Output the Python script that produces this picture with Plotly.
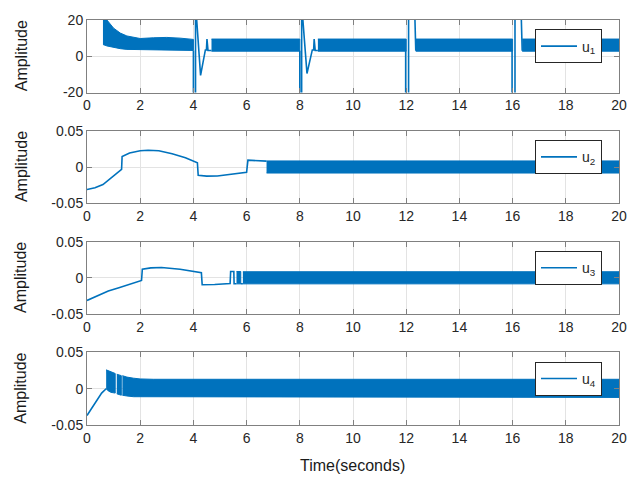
import plotly.graph_objects as go

# ---------------- data ----------------
X_TICKS = [0, 2, 4, 6, 8, 10, 12, 14, 16, 18, 20]
X_TICK_TEXT = ["0", "2", "4", "6", "8", "10", "12", "14", "16", "18", "20"]
Y1_TICKS = [-20, 0, 20]
Y1_TICK_TEXT = ["-20", "0", "20"]
YS_TICKS = [-0.05, 0, 0.05]
YS_TICK_TEXT = ["-0.05", "0", "0.05"]
SERIES_NAMES = ["u<sub>1</sub>", "u<sub>2</sub>", "u<sub>3</sub>", "u<sub>4</sub>"]

# u1: chattering bands (upper / lower envelopes) and transients
U1_BAND_A_T = [0.6, 0.75, 1.0, 1.25, 1.5, 1.75, 2.0, 2.5, 3.0, 3.5, 4.0]
U1_BAND_A_HI = [26, 20, 15.5, 12.8, 11.2, 10.3, 9.8, 10.2, 10.4, 10.0, 9.3]
U1_BAND_A_LO = [6.5, 5.7, 4.8, 4.2, 3.8, 3.6, 3.5, 3.4, 3.4, 3.3, 3.2]
U1_BAND_B_T = [4.68, 8.0]
U1_BAND_B_HI = [9.5, 9.5]
U1_BAND_B_LO = [2.8, 2.8]
U1_BAND_C_T = [8.68, 12.0]
U1_BAND_C_HI = [9.5, 9.5]
U1_BAND_C_LO = [2.8, 2.8]
U1_BAND_D_T = [12.36, 16.0]
U1_BAND_D_HI = [9.5, 9.5]
U1_BAND_D_LO = [2.8, 2.8]
U1_BAND_E_T = [16.36, 20.0]
U1_BAND_E_HI = [9.5, 9.5]
U1_BAND_E_LO = [2.8, 2.8]
U1_LINE_T = [4.0, 4.0, 4.08, 4.08, 4.1, 4.27, 4.45, 4.49, 4.51, 4.55, 4.68, None,
             8.0, 8.0, 8.07, 8.07, 8.09, 8.27, 8.47, 8.52, 8.54, 8.58, 8.68, None,
             11.98, 11.98, 12.09, 12.09, 12.32, 12.36, None,
             15.98, 15.98, 16.09, 16.09, 16.32, 16.36]
U1_LINE_V = [3.2, -25, -25, 25, 25, -10.5, 3.5, 3.5, 9.5, 3.2, 3.2, None,
             3.0, -25, -25, 25, 25, -9.5, 3.5, 3.5, 9.5, 3.2, 3.2, None,
             3.0, -25, -25, 25, 25, 3.0, None,
             3.0, -25, -25, 25, 25, 3.0]

# u2
U2_LINE_T = [0, 0.3, 0.6, 0.9, 1.1, 1.3, 1.32, 1.6, 2.0, 2.3, 2.7, 3.2, 3.7, 4.15,
             4.18, 4.5, 4.9, 5.4, 6.0, 6.05, 6.3, 6.75]
U2_LINE_V = [-0.031, -0.0285, -0.024, -0.0155, -0.0097, -0.003, 0.0145, 0.0195,
             0.0225, 0.0232, 0.0225, 0.0185, 0.013, 0.006,
             -0.0112, -0.0125, -0.0122, -0.0103, -0.0072, 0.0095, 0.0093, 0.0082]
U2_BAND_T = [6.75, 20.0]
U2_BAND_HI = [0.0085, 0.0085]
U2_BAND_LO = [-0.0082, -0.0082]

# u3
U3_LINE_T = [0, 0.5, 0.8, 1.2, 1.6, 2.05, 2.08, 2.4, 2.8, 3.5, 4.3, 4.33, 4.8, 5.38,
             5.4, 5.52, 5.53, 5.62]
U3_LINE_V = [-0.031, -0.0225, -0.018, -0.0135, -0.009, -0.0035, 0.012, 0.0138,
             0.0143, 0.012, 0.0073, -0.0095, -0.009, -0.0078,
             0.0088, 0.0088, -0.008, -0.008]
U3_BAND_A_T = [5.62, 5.78]
U3_BAND_A_HI = [0.0088, 0.0088]
U3_BAND_A_LO = [-0.0082, -0.0082]
U3_GAP_T = [5.78, 5.86]
U3_GAP_V = [-0.008, -0.008]
U3_BAND_B_T = [5.86, 20.0]
U3_BAND_B_HI = [0.0085, 0.0085]
U3_BAND_B_LO = [-0.0082, -0.0082]

# u4
U4_LINE_T = [0, 0.3, 0.55, 0.72]
U4_LINE_V = [-0.037, -0.02, -0.006, 0.0]
U4_BAND_A_T = [0.72, 0.8, 0.9, 1.06]
U4_BAND_A_HI = [0.026, 0.025, 0.023, 0.021]
U4_BAND_A_LO = [0.0, -0.003, -0.005, -0.006]
U4_BAND_B_T = [1.12, 1.2, 1.29]
U4_BAND_B_HI = [0.02, 0.019, 0.018]
U4_BAND_B_LO = [-0.007, -0.008, -0.009]
U4_BAND_C_T = [1.33, 1.5, 1.75, 2.0, 2.5, 20.0]
U4_BAND_C_HI = [0.018, 0.016, 0.0145, 0.0135, 0.013, 0.013]
U4_BAND_C_LO = [-0.009, -0.010, -0.011, -0.0115, -0.012, -0.012]

# ---------------- styling ----------------
BLUE = "#0072BD"
AX = "#808080"
GRID = "#e3e3e3"
TXT = "#262626"
FONT = "Liberation Sans, Arial, sans-serif"

fig = go.Figure()


def band(t, hi, lo, ax):
    fig.add_trace(go.Scatter(
        x=list(t) + list(t)[::-1], y=list(hi) + list(lo)[::-1],
        fill="toself", fillcolor=BLUE, mode="lines",
        line=dict(color=BLUE, width=1), showlegend=False, hoverinfo="skip",
        xaxis="x" + ax, yaxis="y" + ax))


def line(t, v, ax, name=None, legend=None):
    fig.add_trace(go.Scatter(
        x=t, y=v, mode="lines", line=dict(color=BLUE, width=1.6),
        name=name or "", showlegend=name is not None,
        legend=legend or "legend", connectgaps=False,
        xaxis="x" + ax, yaxis="y" + ax))


# subplot 1
band(U1_BAND_A_T, U1_BAND_A_HI, U1_BAND_A_LO, "")
band(U1_BAND_B_T, U1_BAND_B_HI, U1_BAND_B_LO, "")
band(U1_BAND_C_T, U1_BAND_C_HI, U1_BAND_C_LO, "")
band(U1_BAND_D_T, U1_BAND_D_HI, U1_BAND_D_LO, "")
band(U1_BAND_E_T, U1_BAND_E_HI, U1_BAND_E_LO, "")
line(U1_LINE_T, U1_LINE_V, "", SERIES_NAMES[0], "legend")
# subplot 2
band(U2_BAND_T, U2_BAND_HI, U2_BAND_LO, "2")
line(U2_LINE_T, U2_LINE_V, "2", SERIES_NAMES[1], "legend2")
# subplot 3
band(U3_BAND_A_T, U3_BAND_A_HI, U3_BAND_A_LO, "3")
band(U3_BAND_B_T, U3_BAND_B_HI, U3_BAND_B_LO, "3")
line(U3_GAP_T, U3_GAP_V, "3")
line(U3_LINE_T, U3_LINE_V, "3", SERIES_NAMES[2], "legend3")
# subplot 4
band(U4_BAND_A_T, U4_BAND_A_HI, U4_BAND_A_LO, "4")
band(U4_BAND_B_T, U4_BAND_B_HI, U4_BAND_B_LO, "4")
band(U4_BAND_C_T, U4_BAND_C_HI, U4_BAND_C_LO, "4")
line(U4_LINE_T, U4_LINE_V, "4", SERIES_NAMES[3], "legend4")

# ---------------- layout ----------------
L, R, T, B = 87, 21, 12, 53
W, H = 640, 478
PH = H - T - B
tops = [12, 125, 238, 351]
h = 74


def pdom(top):
    bot = top + h
    return [(H - B - bot) / PH, (H - B - top) / PH]


def py(px):
    return (H - B - px) / PH


axis_common = dict(showline=True, linecolor=AX, linewidth=1, mirror="ticks",
                   ticks="inside", ticklen=5, tickcolor=AX, showgrid=True,
                   gridcolor=GRID, gridwidth=1, zeroline=False,
                   tickfont=dict(family=FONT, size=14, color=TXT))

layout = dict(width=W, height=H, margin=dict(l=L, r=R, t=T, b=B),
              paper_bgcolor="white", plot_bgcolor="white",
              font=dict(family=FONT, color=TXT))

for i, top in enumerate(tops):
    sfx = "" if i == 0 else str(i + 1)
    layout["xaxis" + sfx] = dict(axis_common, domain=[0, 1], range=[0, 20],
                                 tickvals=X_TICKS, ticktext=X_TICK_TEXT,
                                 anchor="y" + sfx)
    if i == 0:
        yv, yt, yr = Y1_TICKS, Y1_TICK_TEXT, [-20, 20]
    else:
        yv, yt, yr = YS_TICKS, YS_TICK_TEXT, [-0.05, 0.05]
    layout["yaxis" + sfx] = dict(axis_common, domain=pdom(top), range=yr,
                                 tickvals=yv, ticktext=yt, anchor="x" + sfx)
    lg = "legend" + sfx
    layout[lg] = dict(x=(602 - L) / (W - L - R), xanchor="right",
                      y=py(top + 27), yanchor="middle", itemwidth=36,
                      bgcolor="white", bordercolor=TXT, borderwidth=1,
                      font=dict(family=FONT, size=14, color=TXT))

annotations = []
for top in tops:
    annotations.append(dict(text="Amplitude", xref="paper", yref="paper",
                            x=(21 - L) / (W - L - R), y=py(top + h / 2),
                            xanchor="center", yanchor="middle", textangle=-90,
                            showarrow=False,
                            font=dict(family=FONT, size=16, color="#1a1a1a")))
annotations.append(dict(text="Time(seconds)", xref="paper", yref="paper",
                        x=(352 - L) / (W - L - R), y=py(466),
                        xanchor="center", yanchor="middle", showarrow=False,
                        font=dict(family=FONT, size=16, color="#1a1a1a")))
layout["annotations"] = annotations

fig.update_layout(**layout)
fig.write_html("out.html", config={"displayModeBar": False},
               post_script="document.body.style.margin='0';document.body.style.padding='0';")
